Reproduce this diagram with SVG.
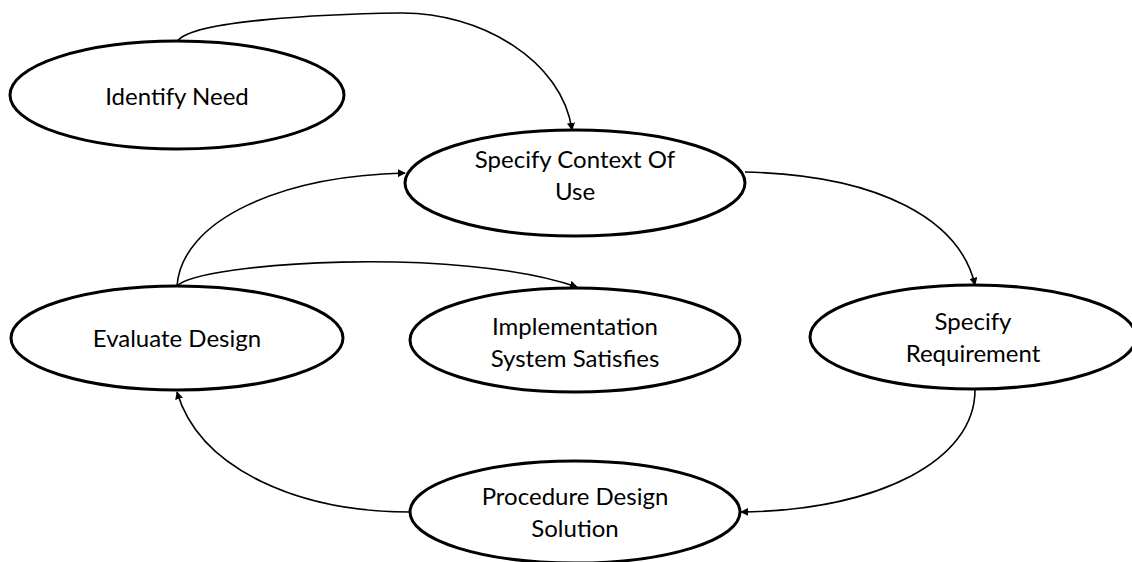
<svg xmlns="http://www.w3.org/2000/svg" width="1132" height="562" viewBox="0 0 1132 562">
<style>
.node ellipse{fill:#fff;stroke:#000;stroke-width:3}
.node text{font-family:"Lato","Open Sans",sans-serif;font-size:24px;fill:#000;text-anchor:middle}
.conn path{fill:none;stroke:#000;stroke-width:1.6;marker-end:url(#arr)}
</style>
<defs>
<marker id="arr" viewBox="0 0 10 10" refX="9" refY="5" markerWidth="8" markerHeight="8" markerUnits="userSpaceOnUse" orient="auto">
<path d="M0,0 L10,5 L0,10 z" fill="#000"/>
</marker>
</defs>
<rect width="1132" height="562" fill="#fff"/>
<g class="conn">
<path d="M177,42 C188,20 330,14 400,13 C480,12 562,60 572,130"/>
<path d="M177,286 C182,220 280,176 405,173"/>
<path d="M177,286 C200,262 460,246 577,287"/>
<path d="M745,172 C880,175 960,220 975,285"/>
<path d="M975,390 C975,460 880,510 741,512"/>
<path d="M410,512 C300,512 200,470 177,392"/>
</g>
<g id="identify-need" class="node">
<ellipse cx="177" cy="95" rx="167" ry="54"/>
<text x="177" y="105">Identify Need</text>
</g>
<g id="specify-context" class="node">
<ellipse cx="575" cy="183" rx="170" ry="53"/>
<text x="575" y="168">Specify Context Of</text>
<text x="575" y="200">Use</text>
</g>
<g id="evaluate-design" class="node">
<ellipse cx="177" cy="338" rx="166" ry="52"/>
<text x="177" y="347">Evaluate Design</text>
</g>
<g id="implementation" class="node">
<ellipse cx="575" cy="340" rx="165" ry="52"/>
<text x="575" y="335">Implementation</text>
<text x="575" y="367">System Satisfies</text>
</g>
<g id="specify-requirement" class="node">
<ellipse cx="973" cy="337" rx="163" ry="52"/>
<text x="973" y="330">Specify</text>
<text x="973" y="362">Requirement</text>
</g>
<g id="procedure-design" class="node">
<ellipse cx="575" cy="512" rx="165" ry="51"/>
<text x="575" y="505">Procedure Design</text>
<text x="575" y="537">Solution</text>
</g>
</svg>
